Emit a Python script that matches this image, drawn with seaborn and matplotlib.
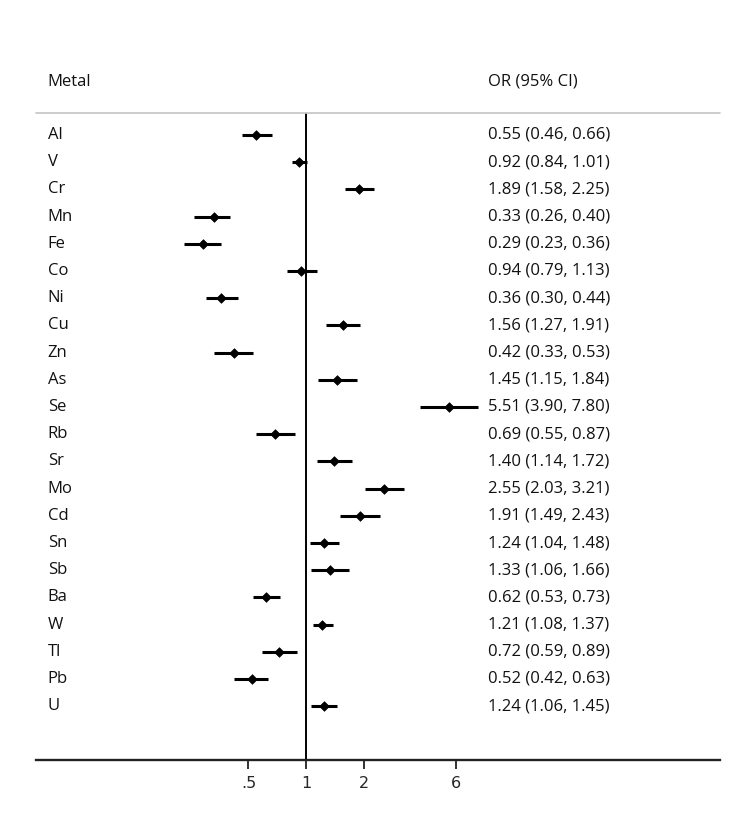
import matplotlib
matplotlib.use("Agg")
import matplotlib.pyplot as plt
import matplotlib.transforms as mtransforms
from matplotlib.ticker import FixedLocator, FixedFormatter, NullLocator
import seaborn as sns
import pandas as pd

metals = ["Al", "V", "Cr", "Mn", "Fe", "Co", "Ni", "Cu", "Zn", "As", "Se",
          "Rb", "Sr", "Mo", "Cd", "Sn", "Sb", "Ba", "W", "Tl", "Pb", "U"]
odds_ratio = [0.55, 0.92, 1.89, 0.33, 0.29, 0.94, 0.36, 1.56, 0.42, 1.45, 5.51,
              0.69, 1.40, 2.55, 1.91, 1.24, 1.33, 0.62, 1.21, 0.72, 0.52, 1.24]
ci_low = [0.46, 0.84, 1.58, 0.26, 0.23, 0.79, 0.30, 1.27, 0.33, 1.15, 3.90,
          0.55, 1.14, 2.03, 1.49, 1.04, 1.06, 0.53, 1.08, 0.59, 0.42, 1.06]
ci_high = [0.66, 1.01, 2.25, 0.40, 0.36, 1.13, 0.44, 1.91, 0.53, 1.84, 7.80,
           0.87, 1.72, 3.21, 2.43, 1.48, 1.66, 0.73, 1.37, 0.89, 0.63, 1.45]
tick_values = [0.5, 1, 2, 6]
tick_labels = [".5", "1", "2", "6"]
header_left = "Metal"
header_right = "OR (95% CI)"

sns.set_style("white")
plt.rcParams["font.family"] = ["Open Sans", "DejaVu Sans"]

df = pd.DataFrame({"metal": metals, "OR": odds_ratio, "lo": ci_low, "hi": ci_high})
df["row"] = range(len(df))
df["label"] = [f"{o:.2f} ({l:.2f}, {h:.2f})" for o, l, h in zip(odds_ratio, ci_low, ci_high)]

W, H = 750, 830
fig = plt.figure(figsize=(W / 100, H / 100), dpi=100)
ax_left, ax_right, ax_bottom, ax_top = 36, 720, 760, 40
ax = fig.add_axes([ax_left / W, (H - ax_bottom) / H,
                   (ax_right - ax_left) / W, (ax_bottom - ax_top) / H])

row_h = 27.2
y0 = 135
ybot = (ax_bottom - y0) / row_h
ytop = (ax_top - y0) / row_h
y_header = (82 - y0) / row_h
y_line = (113 - y0) / row_h

ax.set_xscale("log")
ax.set_xlim(0.0392, 142.1)
ax.set_ylim(ybot, ytop)

ax.hlines(df["row"], df["lo"], df["hi"], color="black", lw=2.2, zorder=3)
sns.scatterplot(data=df, x="OR", y="row", marker="D", s=24, color="black",
                edgecolor="black", linewidth=0.5, ax=ax, zorder=4, legend=False)

ax.vlines(1, y_line, ybot, color="black", lw=1.4, zorder=2)

trans = mtransforms.blended_transform_factory(ax.transAxes, ax.transData)
ax.plot([0, 1], [y_line, y_line], transform=trans, color="#c4c4c4", lw=1.2, clip_on=False)

fs = 12
ax.text(0.0171, y_header, header_left, transform=trans, va="center", ha="left", fontsize=fs, color="#111111")
ax.text(0.661, y_header, header_right, transform=trans, va="center", ha="left", fontsize=fs, color="#111111")
for _, r in df.iterrows():
    ax.text(0.0171, r["row"], r["metal"], transform=trans, va="center", ha="left", fontsize=fs, color="#111111")
    ax.text(0.661, r["row"], r["label"], transform=trans, va="center", ha="left", fontsize=fs, color="#111111")

for s in ["left", "right", "top"]:
    ax.spines[s].set_visible(False)
ax.spines["bottom"].set_linewidth(1.7)
ax.spines["bottom"].set_color("#222222")

ax.xaxis.set_major_locator(FixedLocator(tick_values))
ax.xaxis.set_major_formatter(FixedFormatter(tick_labels))
ax.xaxis.set_minor_locator(NullLocator())
ax.tick_params(axis="x", which="major", bottom=True, direction="out", length=6.5, width=1.3,
               color="#222222", pad=5, labelsize=11.5)
for lab in ax.get_xticklabels():
    lab.set_family(["Liberation Sans Narrow", "DejaVu Sans"])
ax.set_yticks([])
ax.set_xlabel("")
ax.set_ylabel("")

fig.savefig("out.png", dpi=100, facecolor="white")
